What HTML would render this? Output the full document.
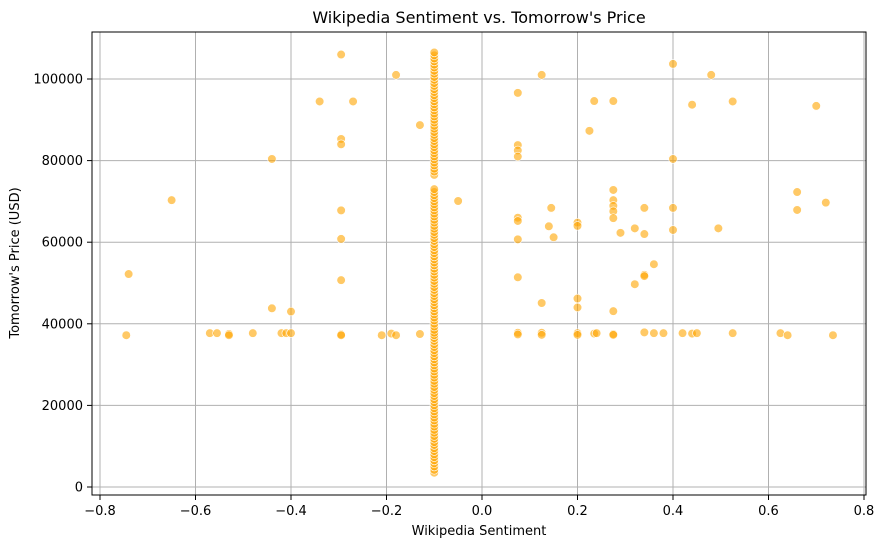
<!DOCTYPE html>
<html><head><meta charset="utf-8"><style>
body{margin:0;background:#fff;font-family:"Liberation Sans",sans-serif}
svg text{font-family:"DejaVu Sans","Liberation Sans",sans-serif;fill:#000}
</style></head><body>
<svg id="chart" width="883" height="547" xmlns="http://www.w3.org/2000/svg">
<g id="grid"></g>
<g id="points"></g>
<rect x="92" y="32" width="774" height="463" fill="none" stroke="#000" stroke-width="1"/>
<g id="ticks"></g>
<text x="479" y="23" text-anchor="middle" font-size="16">Wikipedia Sentiment vs. Tomorrow's Price</text>
<text x="479" y="535" text-anchor="middle" font-size="13">Wikipedia Sentiment</text>
<text transform="translate(19,263) rotate(-90)" text-anchor="middle" font-size="13">Tomorrow's Price (USD)</text>
</svg>
<script>
const xTicks=[-0.8,-0.6,-0.4,-0.2,0.0,0.2,0.4,0.6,0.8];
const yTicks=[0,20000,40000,60000,80000,100000];
const scatterX=[-0.745,-0.74,-0.65,-0.57,-0.555,-0.53,-0.53,-0.48,-0.44,-0.44,-0.42,-0.41,-0.40,-0.40,-0.34,-0.295,-0.295,-0.295,-0.295,-0.295,-0.295,-0.295,-0.295,-0.27,-0.21,-0.19,-0.18,-0.18,-0.13,-0.13,-0.05,0.075,0.075,0.075,0.075,0.075,0.075,0.075,0.075,0.075,0.075,0.125,0.125,0.125,0.125,0.14,0.145,0.15,0.2,0.2,0.2,0.2,0.2,0.2,0.225,0.235,0.235,0.24,0.275,0.275,0.275,0.275,0.275,0.275,0.275,0.275,0.275,0.29,0.32,0.32,0.34,0.34,0.34,0.34,0.34,0.36,0.36,0.38,0.40,0.40,0.40,0.40,0.42,0.44,0.44,0.45,0.48,0.495,0.525,0.525,0.625,0.64,0.66,0.66,0.70,0.72,0.735];
const scatterY=[37200,52200,70300,37700,37700,37500,37200,37700,80400,43800,37700,37700,37700,43000,94500,106000,85300,84000,67800,60800,50700,37400,37200,94500,37200,37600,101000,37200,37500,88700,70100,96600,83800,82500,81000,66000,65200,60700,51400,37800,37400,101000,45100,37800,37300,63900,68400,61200,64800,64000,46200,44000,37700,37300,87300,94600,37600,37700,94600,72800,70300,68900,67600,65900,43100,37500,37300,62300,63400,49700,68400,62000,52000,51700,37900,54600,37700,37700,103700,80400,68400,63000,37700,37600,93700,37700,101000,63400,94500,37700,37700,37200,72300,67900,93400,69700,37200];
const columnX=-0.1;
const columnY=[3500,4200,5000,5800,6500,7300,8000,8800,9500,10300,11000,11800,12500,13300,14000,14800,15500,16300,17000,17800,18500,19300,20000,20800,21500,22300,23000,23800,24500,25300,26000,26800,27500,28300,29000,29800,30500,31300,32000,32800,33500,34300,35000,35800,36500,37200,37800,38500,39300,40000,40800,41500,42300,43000,43800,44500,45300,46000,46800,47500,48300,49000,49800,50500,51300,52000,52800,53500,54300,55000,55800,56500,57300,58000,58800,59500,60300,61000,61800,62500,63300,64000,64800,65500,66300,67000,67800,68500,69300,70000,70800,71500,72300,73000,76500,77300,78000,78800,79500,80300,81000,81800,82500,83300,84000,84800,85500,86300,87000,87800,88500,89300,90000,90800,91500,92300,93000,93800,94500,95300,96000,96800,97500,98300,99000,99800,100500,101300,102000,102800,103500,104300,105000,105800,106500];
const X0=482,XS=477.5,Y0=487,YS=0.00408;
const sx=v=>X0+v*XS, sy=v=>Y0-v*YS;
const NS="http://www.w3.org/2000/svg";
const grid=document.getElementById('grid'),ticks=document.getElementById('ticks'),pts=document.getElementById('points');
function mk(tag,attrs,parent){const e=document.createElementNS(NS,tag);for(const k in attrs)e.setAttribute(k,attrs[k]);parent.appendChild(e);return e;}
xTicks.forEach(t=>{const x=sx(t);
 const g=mk('line',{x1:x,x2:x,y1:32,y2:495,stroke:'#b0b0b0','stroke-width':1},grid);
 
 
 const tk=mk('line',{x1:x,x2:x,y1:495,y2:500,stroke:'#000'},ticks);
 
 
 const tx=mk('text',{x:x,y:515,'text-anchor':'middle','font-size':13},ticks);tx.textContent=t.toFixed(1).replace('-','\u2212');
 
 
});
yTicks.forEach(t=>{const y=sy(t);
 const g=mk('line',{x1:92,x2:866,y1:y,y2:y,stroke:'#b0b0b0','stroke-width':1},grid);
 
 
 const tk=mk('line',{x1:87,x2:92,y1:y,y2:y,stroke:'#000'},ticks);
 
 
 const tx=mk('text',{x:83,y:y+4.5,'text-anchor':'end','font-size':13},ticks);tx.textContent=String(t);
 
 
});
function dot(x,y){const c=mk('circle',{cx:sx(x),cy:sy(y),r:4.3,fill:'#ffa500','fill-opacity':0.6,stroke:'#fff','stroke-width':0.6},pts);
 
 }
scatterX.forEach((x,i)=>dot(x,scatterY[i]));
columnY.forEach(y=>dot(columnX,y));
</script>
</body></html>
